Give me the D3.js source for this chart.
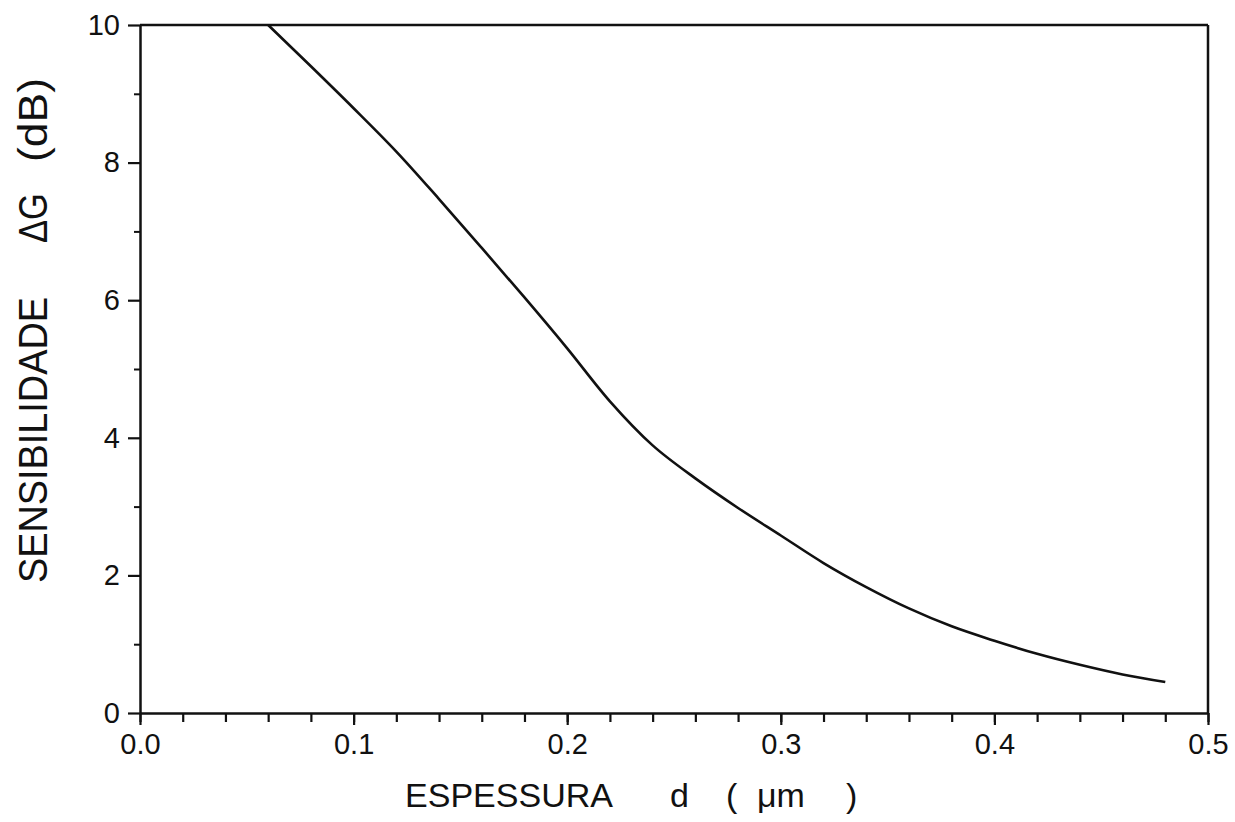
<!DOCTYPE html>
<html>
<head>
<meta charset="utf-8">
<script src="https://cdn.jsdelivr.net/npm/d3@7"></script>
<style>
  body { margin: 0; background: #fff; }
  text { font-family: "Liberation Sans", Arial, sans-serif; fill: #111; }
</style>
</head>
<body>
<div id="chart"></div>
<script>
// thickness d (um) and sensitivity dG (dB)
const thickness = [0.06, 0.08, 0.10, 0.12, 0.14, 0.16, 0.18, 0.20, 0.22, 0.24, 0.26,
                   0.28, 0.30, 0.32, 0.34, 0.36, 0.38, 0.40, 0.42, 0.44, 0.46, 0.48];
const sensitivity = [10.0, 9.40, 8.79, 8.16, 7.47, 6.76, 6.04, 5.30, 4.53, 3.89, 3.41,
                     2.98, 2.58, 2.18, 1.83, 1.52, 1.26, 1.05, 0.86, 0.70, 0.56, 0.45];
const xTicks = [0.0, 0.1, 0.2, 0.3, 0.4, 0.5];
const xMinor = d3.range(0, 0.5001, 0.02);
const yTicks = [0, 2, 4, 6, 8, 10];
const yMinor = [1, 3, 5, 7, 9];

const data = thickness.map((d, i) => ({d: d, g: sensitivity[i]}));

// set the dimensions and margins of the graph
const margin = {top: 25, right: 27, bottom: 109, left: 140},
  width = 1235 - margin.left - margin.right,
  height = 822 - margin.top - margin.bottom;

const svg = d3.select("#chart")
  .append("svg")
  .attr("width", 1235)
  .attr("height", 822)
  .append("g")
  .attr("transform", `translate(${margin.left}, ${margin.top})`);

const x = d3.scaleLinear().domain([0, 0.5]).range([0, width]);
const y = d3.scaleLinear().domain([0, 10]).range([height, 0]);

// minor ticks on x
svg.append("g")
  .attr("transform", `translate(0, ${height})`)
  .call(d3.axisBottom(x).tickValues(xMinor).tickSize(9).tickFormat(""))
  .call(g => g.select(".domain").remove())
  .selectAll("line").attr("stroke-width", 2.2).attr("stroke", "#111");

// X axis
svg.append("g")
  .attr("transform", `translate(0, ${height})`)
  .call(d3.axisBottom(x).tickValues(xTicks).tickSize(12).tickSizeOuter(0).tickFormat(d3.format(".1f")))
  .call(g => g.select(".domain").attr("stroke-width", 2.5).attr("stroke", "#111"))
  .call(g => g.selectAll("line").attr("stroke-width", 2.2).attr("stroke", "#111"))
  .selectAll("text")
  .style("font-size", "29px")
  .attr("dy", "0.71em")
  .attr("y", 20);

// minor ticks on y
svg.append("g")
  .call(d3.axisLeft(y).tickValues(yMinor).tickSize(6).tickFormat(""))
  .call(g => g.select(".domain").remove())
  .selectAll("line").attr("stroke-width", 2).attr("stroke", "#111");

// Y axis
svg.append("g")
  .call(d3.axisLeft(y).tickValues(yTicks).tickSize(12).tickSizeOuter(0))
  .call(g => g.select(".domain").attr("stroke-width", 2.5).attr("stroke", "#111"))
  .call(g => g.selectAll("line").attr("stroke-width", 2.2).attr("stroke", "#111"))
  .selectAll("text")
  .style("font-size", "29px")
  .attr("x", -20);

// top and right frame
svg.append("line")
  .attr("x1", 0).attr("x2", width).attr("y1", 0).attr("y2", 0)
  .attr("stroke", "#111").attr("stroke-width", 2.5);
svg.append("line")
  .attr("x1", width).attr("x2", width).attr("y1", 0).attr("y2", height)
  .attr("stroke", "#111").attr("stroke-width", 2.5);

// the curve
const line = d3.line()
  .x(d => x(d.d))
  .y(d => y(d.g))
  .curve(d3.curveCatmullRom.alpha(0.5));

svg.append("path")
  .datum(data)
  .attr("fill", "none")
  .attr("stroke", "#111")
  .attr("stroke-width", 2.6)
  .attr("d", line);

// axis titles, placed piece by piece like the original
const xTitle = [["ESPESSURA", 405], ["d", 670], ["(", 726], ["\u03BCm", 757], [")", 846]];
svg.selectAll(".xtitle")
  .data(xTitle)
  .join("text")
  .attr("class", "xtitle")
  .attr("x", d => d[1] - margin.left)
  .attr("y", 807 - margin.top)
  .style("font-size", "34px")
  .text(d => d[0]);
svg.selectAll(".xtitle").filter(d => d[0] == "ESPESSURA")
  .attr("textLength", 208).attr("lengthAdjust", "spacingAndGlyphs");

const yTitle = [["SENSIBILIDADE", 583, 286], ["\u0394G", 243, 50], ["(dB)", 162, 84]];
svg.selectAll(".ytitle")
  .data(yTitle)
  .join("text")
  .attr("class", "ytitle")
  .attr("transform", d => `translate(${47 - margin.left}, ${d[1] - margin.top}) rotate(-90)`)
  .attr("textLength", d => d[2])
  .attr("lengthAdjust", "spacingAndGlyphs")
  .style("font-size", "40px")
  .text(d => d[0]);
</script>
</body>
</html>
